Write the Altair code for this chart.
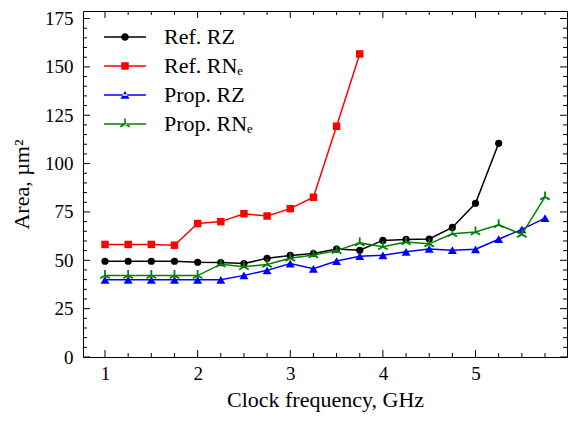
import altair as alt
import pandas as pd

# ---- data ----
freq = [1.0, 1.25, 1.5, 1.75, 2.0, 2.25, 2.5, 2.75, 3.0, 3.25,
        3.5, 3.75, 4.0, 4.25, 4.5, 4.75, 5.0, 5.25, 5.5, 5.75]
ref_rz = [49.5, 49.5, 49.5, 49.5, 49.0, 48.8, 48.3, 51.0, 52.5, 53.5,
          55.8, 55.2, 60.3, 60.8, 61.0, 67.0, 79.5, 110.5]
ref_rne = [58.2, 58.2, 58.2, 57.8, 69.0, 70.0, 74.1, 72.9, 76.7, 82.6,
           119.3, 156.7]
prop_rz = [39.9, 39.9, 39.9, 39.9, 39.9, 39.9, 42.2, 44.8, 48.3, 45.6,
           49.6, 52.1, 52.6, 54.4, 55.9, 55.2, 55.7, 60.9, 66.0, 71.8]
prop_rne = [42.1, 42.1, 42.1, 42.1, 42.1, 48.0, 46.7, 47.8, 51.1, 52.7,
            55.0, 59.0, 57.0, 59.5, 58.5, 63.7, 64.6, 68.4, 63.4, 82.8]

series_names = ["Ref. RZ", "Ref. RN\u2091", "Prop. RZ", "Prop. RN\u2091"]
series_colors = ["#000000", "#ff0000", "#0000ff", "#008000"]

x_major = [1, 2, 3, 4, 5]
x_minor = [1.25, 1.5, 1.75, 2.25, 2.5, 2.75, 3.25, 3.5, 3.75,
           4.25, 4.5, 4.75, 5.25, 5.5, 5.75]
y_major = [0, 25, 50, 75, 100, 125, 150, 175]
y_minor = [v for v in range(5, 175, 5) if v % 25 != 0]

# ---- marker shapes ----
TRI_STROKE = "M0,0L0,-1M0,0L-0.866,0.5M0,0L0.866,0.5"
LINE = "M-5.6,-0.19H5.6V0.19H-5.6Z"
CIRC = "M1,0A1,1,0,1,1,-1,0A1,1,0,1,1,1,0Z"
SQR = "M-1,-1H1V1H-1Z"
TRI = "M0,-1.08L-1.22,1.0L1.22,1.0Z"
TRI_FILL = ("M-0.22,0.05L-0.22,-1.45L0.22,-1.45L0.22,0.05Z"
            "M0.11,0.19L-1.15,0.92L-1.37,0.54L-0.11,-0.19Z"
            "M-0.11,0.19L1.15,0.92L1.37,0.54L0.11,-0.19Z")
legend_paths = [LINE + CIRC, LINE + SQR, LINE + TRI, LINE + TRI_FILL]

all_vals = [ref_rz, ref_rne, prop_rz, prop_rne]
rows = []
for name, vals in zip(series_names, all_vals):
    for f, v in zip(freq, vals):
        rows.append({"freq": f, "area": v, "series": name})
df = pd.DataFrame(rows)

W, H = 484, 346
FONT = "Liberation Serif"

xscale = alt.Scale(domain=[0.7625, 5.9875], nice=False, zero=False)
yscale = alt.Scale(domain=[0, 178.9], nice=False, zero=False)

xaxis = alt.Axis(values=x_major, title="Clock frequency, GHz", ticks=False,
                 domain=False, grid=False, labelFontSize=19, labelPadding=7,
                 titleFontSize=22, titleX=W / 2, titleY=49,
                 titleBaseline="alphabetic", format="d", labelFlush=False,
                 labelOverlap=False, labelFont=FONT, titleFont=FONT,
                 labelColor="black", titleColor="black",
                 titleFontWeight="normal")
yaxis = alt.Axis(values=y_major, title="Area, \u00b5m\u00b2", ticks=False,
                 domain=False, grid=False, labelFontSize=19, labelPadding=10,
                 titleFontSize=22, titleX=-55, titleY=H / 2, titleAngle=270,
                 titleBaseline="alphabetic", titleAlign="center",
                 labelFlush=False, labelOverlap=False, labelFont=FONT,
                 titleFont=FONT, labelColor="black", titleColor="black",
                 titleFontWeight="normal")

X = alt.X("freq:Q", scale=xscale, axis=xaxis)
Y = alt.Y("area:Q", scale=yscale, axis=yaxis)

layers = []
point_specs = [
    dict(shape="circle", filled=True, size=52),
    dict(shape="square", filled=True, size=56),
    dict(shape="triangle-up", filled=True, size=80),
    dict(shape=TRI_STROKE, filled=False, size=120, strokeWidth=1.8),
]
for name, col, ps in zip(series_names, series_colors, point_specs):
    sub = df[df["series"] == name]
    base = alt.Chart(sub)
    layers.append(base.mark_line(color=col, strokeWidth=1.5).encode(x=X, y=Y))
    layers.append(base.mark_point(color=col, opacity=1, **ps).encode(x=X, y=Y))

# inward ticks on all four sides
def xticks(vals, length):
    d = pd.DataFrame({"freq": vals})
    b = alt.Chart(d).mark_rule(color="black", strokeWidth=1)
    return [b.encode(x=X, y=alt.value(H), y2=alt.value(H - length)),
            b.encode(x=X, y=alt.value(0), y2=alt.value(length))]

def yticks(vals, length):
    d = pd.DataFrame({"area": vals})
    b = alt.Chart(d).mark_rule(color="black", strokeWidth=1)
    return [b.encode(y=Y, x=alt.value(0), x2=alt.value(length)),
            b.encode(y=Y, x=alt.value(W), x2=alt.value(W - length))]

layers += xticks(x_major, 7) + xticks(x_minor, 4)
layers += yticks(y_major, 7) + yticks(y_minor, 4)

# legend layer (no marks drawn, only the legend)
leg = alt.Legend(title=None, orient="none", legendX=31, legendY=15,
                 labelFont=FONT, labelFontSize=22, labelColor="black",
                 symbolSize=56, symbolStrokeWidth=0, labelOffset=28,
                 rowPadding=7, padding=0, symbolOpacity=1)
legend_layer = alt.Chart(df).transform_filter("false").mark_point(
    filled=True, opacity=1).encode(
    color=alt.Color("series:N", scale=alt.Scale(domain=series_names,
                                                range=series_colors),
                    legend=leg, sort=series_names),
    shape=alt.Shape("series:N", scale=alt.Scale(domain=series_names,
                                                range=legend_paths),
                    legend=leg, sort=series_names),
)
layers.append(legend_layer)

chart = alt.layer(*layers).properties(
    width=W, height=H,
    autosize=alt.AutoSizeParams(type="none"),
    padding={"left": 75, "top": 3, "right": 1, "bottom": 56},
).configure_view(stroke="black", strokeWidth=1).configure_axis(
    labelFont=FONT, titleFont=FONT, labelColor="black", titleColor="black",
    titleFontWeight="normal"
)

chart.save("out.html", embed_options={"renderer": "svg", "actions": False})
